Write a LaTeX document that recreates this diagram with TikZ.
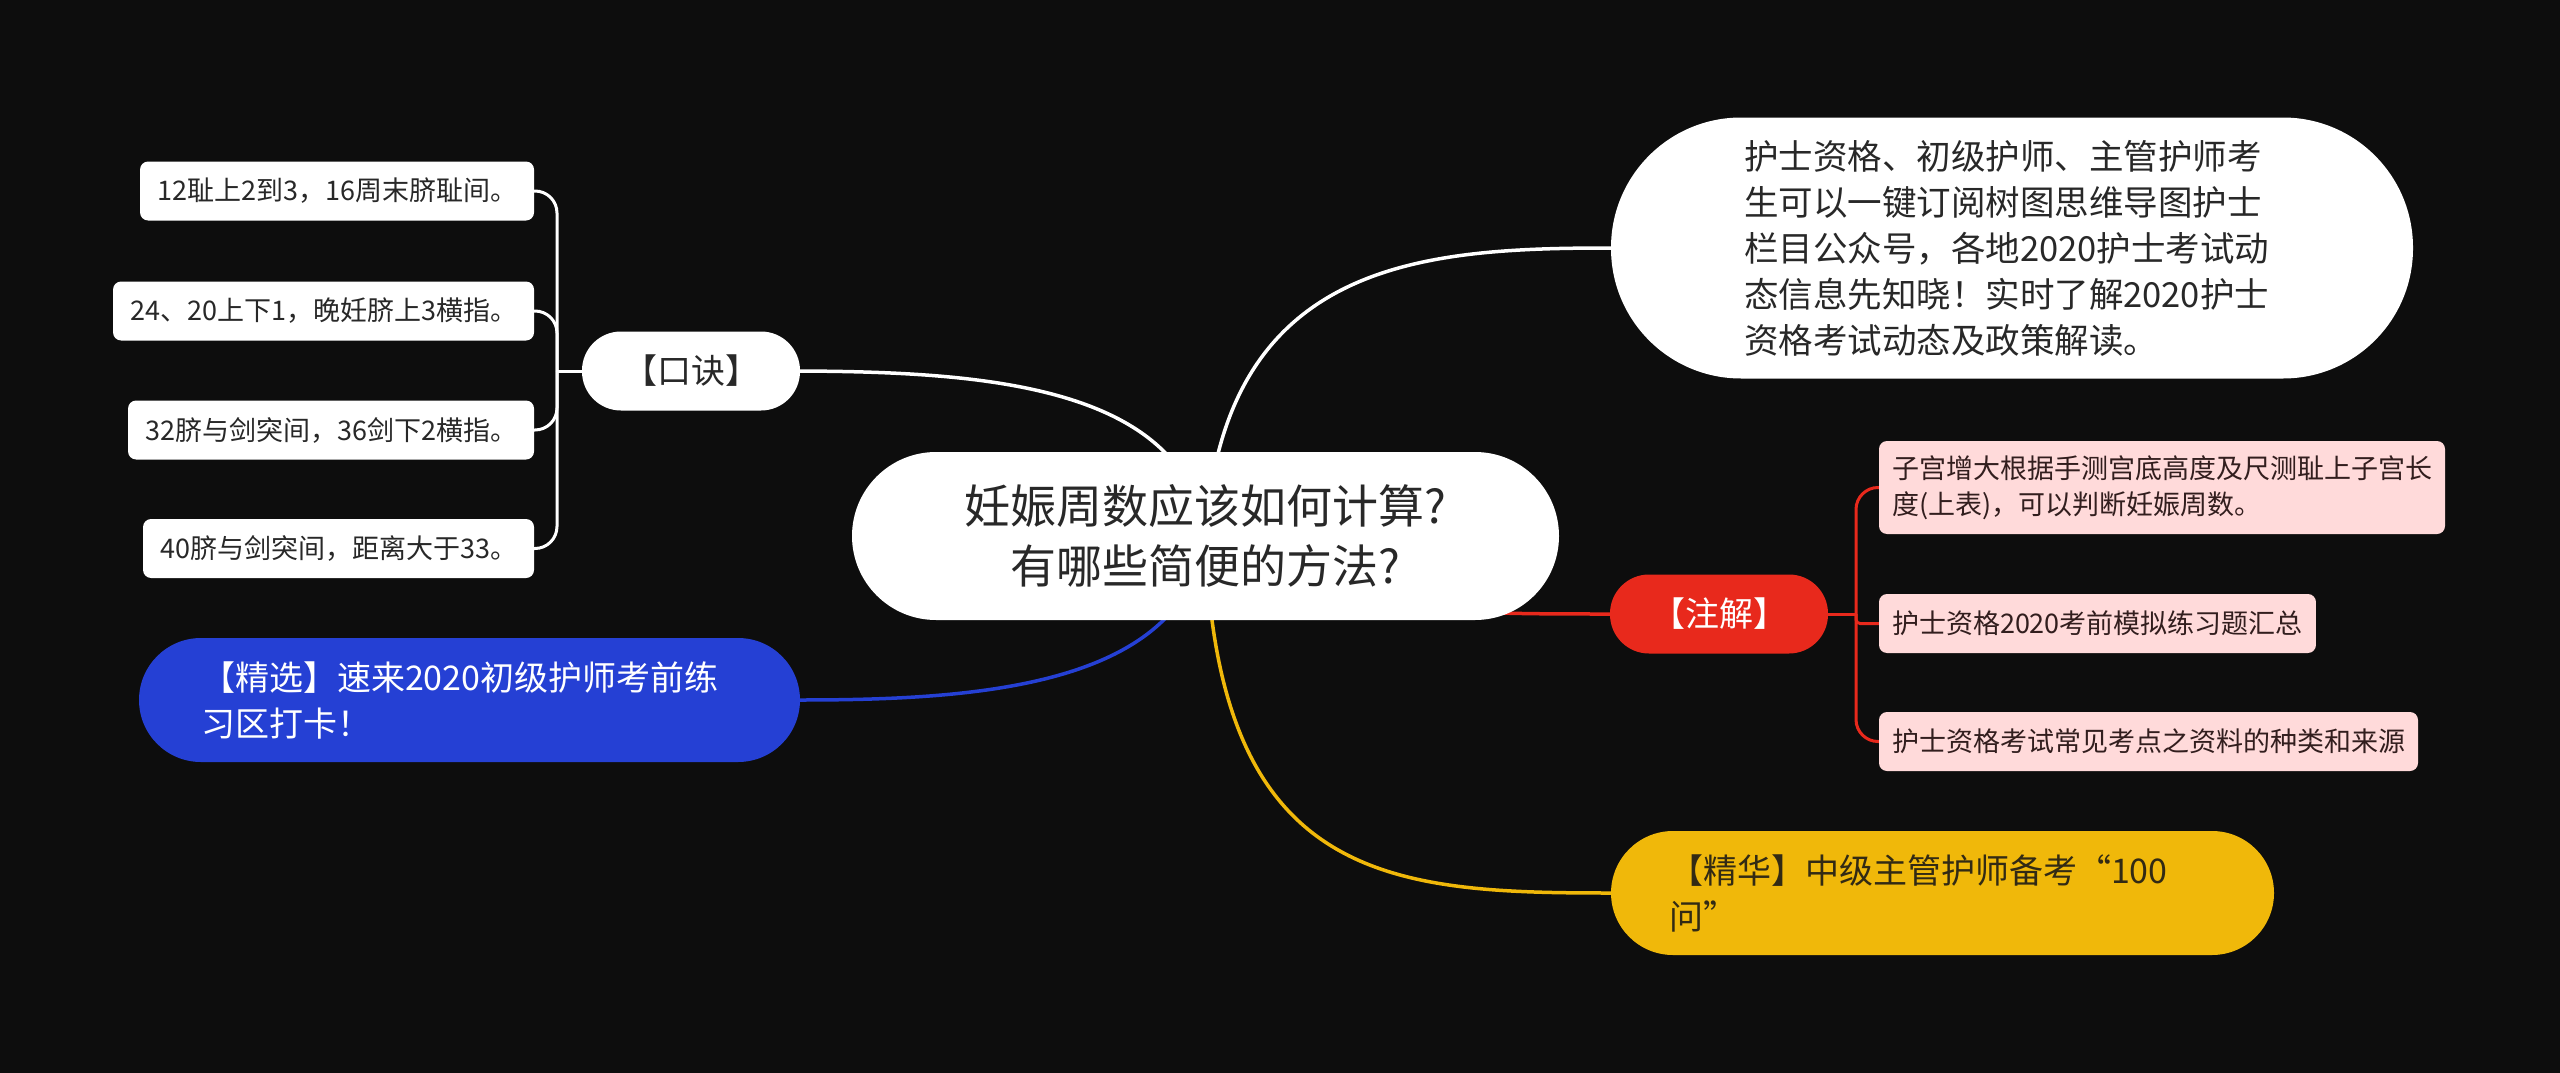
\documentclass[tikz,border=0pt]{standalone}
\usepackage{fontspec}
\setmainfont{Noto Sans CJK SC}
\pgfdeclarelayer{bg}
\pgfdeclarelayer{edges}
\pgfsetlayers{bg,edges,main}
\definecolor{bgc}{RGB}{13,13,13}
\definecolor{bluec}{RGB}{37,64,212}
\definecolor{redc}{RGB}{232,41,28}
\definecolor{yellowc}{RGB}{240,184,10}
\definecolor{pinkc}{RGB}{255,218,218}
\definecolor{darktext}{RGB}{40,40,40}
\definecolor{pinktext}{RGB}{50,30,30}
\definecolor{yeltext}{RGB}{50,42,20}
\begin{document}
\begin{tikzpicture}[x=1pt,y=-1pt,
  every node/.style={inner sep=0pt,outer sep=0pt},
  central/.style={fill=white,rounded corners=84pt,minimum width=707pt,minimum height=168pt,align=center,text=darktext,font=\fontsize{46}{60}\selectfont},
  bigbox/.style={rounded corners=62pt,minimum height=124pt,align=left,font=\fontsize{34}{46}\selectfont},
  pill/.style={rounded corners=39pt,minimum height=79pt,minimum width=218pt,font=\fontsize{34}{46}\selectfont},
  leafw/.style={fill=white,rounded corners=8pt,inner xsep=17pt,minimum height=59pt,font=\fontsize{27}{36}\selectfont,text=darktext,anchor=east},
  leafp/.style={fill=pinkc,rounded corners=8pt,inner xsep=13pt,minimum height=59pt,font=\fontsize{27}{36}\selectfont,text=pinktext,anchor=west,align=left},
  mainedge/.style={line width=3.5pt},
  bracket/.style={line width=3pt,rounded corners=22pt}
]
\begin{pgfonlayer}{bg}
\fill[bgc] (0,0) rectangle (2560,1073);
\end{pgfonlayer}
\useasboundingbox (0,0) rectangle (2560,1073);

% central
\node[central] (C) at (1205.5,536) {妊娠周数应该如何计算?\\有哪些简便的方法?};

% top right
\node[fill=white,rounded corners=130pt,inner xsep=133pt,text width=536pt,minimum height=261pt,align=left,text=darktext,font=\fontsize{34.5}{46}\selectfont] (T) at (2012,248)
{护士资格、初级护师、主管护师考\\生可以一键订阅树图思维导图护士\\栏目公众号，各地2020护士考试动\\态信息先知晓！实时了解2020护士\\资格考试动态及政策解读。};

% koujue
\node[pill,fill=white,text=darktext] (K) at (691,371) {【口诀】};
\node[leafw] (L1) at (534,191) {12耻上2到3，16周末脐耻间。};
\node[leafw] (L2) at (534,311) {24、20上下1，晚妊脐上3横指。};
\node[leafw] (L3) at (534,430) {32脐与剑突间，36剑下2横指。};
\node[leafw] (L4) at (534,548.5) {40脐与剑突间，距离大于33。};

% blue
\node[bigbox,fill=bluec,text=white,inner xsep=62pt,text width=537pt] (B) at (469.5,700)
{【精选】速来2020初级护师考前练\\习区打卡！};

% red
\node[pill,fill=redc,text=white] (R) at (1719,614) {【注解】};
\node[leafp,minimum height=93pt] (P1) at (1879,487.5) {子宫增大根据手测宫底高度及尺测耻上子宫长\\度(上表)，可以判断妊娠周数。};
\node[leafp] (P2) at (1879,623.5) {护士资格2020考前模拟练习题汇总};
\node[leafp] (P3) at (1879,741.5) {护士资格考试常见考点之资料的种类和来源};

% yellow
\node[bigbox,fill=yellowc,text=yeltext,inner xsep=58pt,text width=547pt] (Y) at (1942.5,893)
{【精华】中级主管护师备考“100\\问”};

\coordinate (KJ) at (557,371);
\coordinate (RJ) at (1856,614);

\begin{pgfonlayer}{edges}
\draw[mainedge,white] (C.center) .. controls (1184,384) and (980,372) .. (K.east);
\draw[mainedge,white] (C.center) .. controls (1224,261) and (1420,248) .. (T.west);
\draw[mainedge,bluec] (C.center) .. controls (1184,686) and (980,700) .. (B.east);
\draw[mainedge,redc] (C.center) .. controls (1300,614) and (1450,614) .. (R.west);
\draw[mainedge,yellowc] (C.center) .. controls (1216,882) and (1388,893) .. (Y.west);

\draw[bracket,white] (L1.east) -| (KJ);
\draw[bracket,white] (L2.east) -| (KJ);
\draw[bracket,white] (L3.east) -| (KJ);
\draw[bracket,white] (L4.east) -| (KJ);
\draw[line width=3pt,white] (KJ) -- (K.west);

\draw[bracket,redc] (P1.west) -| (RJ);
\draw[bracket,redc,rounded corners=4pt] (P2.west) -| (RJ);
\draw[bracket,redc] (P3.west) -| (RJ);
\draw[line width=3pt,redc] (RJ) -- (R.east);
\end{pgfonlayer}
\end{tikzpicture}
\end{document}
